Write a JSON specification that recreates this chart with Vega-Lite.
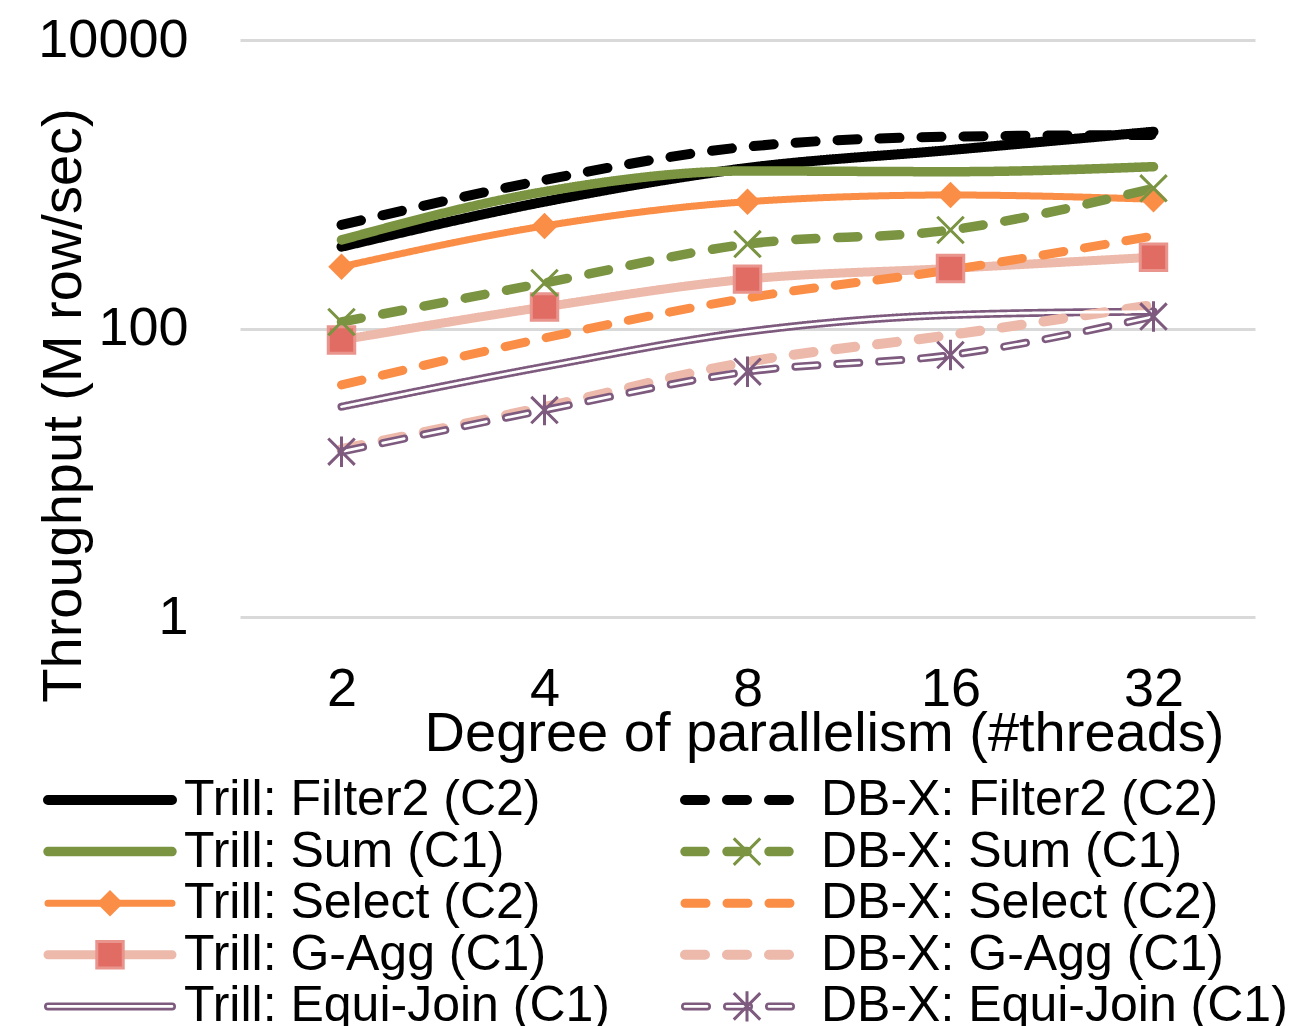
{
  "$schema": "https://vega.github.io/schema/vega-lite/v6.json",
  "width": 1015,
  "height": 577,
  "autosize": {"type": "none"},
  "padding": {"left": 240, "top": 40, "right": 49, "bottom": 409},
  "background": "white",
  "config": {
    "font": "Liberation Sans",
    "view": {"stroke": null},
    "axis": {"labelColor": "#000000", "titleColor": "#000000", "titleFontWeight": "normal", "domain": false, "ticks": false, "tickSize": 0}
  },
  "data": {
    "values": [
      {"series": "Trill: Filter2 (C2)", "threads": 2, "throughput": 369},
      {"series": "Trill: Filter2 (C2)", "threads": 4, "throughput": 757},
      {"series": "Trill: Filter2 (C2)", "threads": 8, "throughput": 1297},
      {"series": "Trill: Filter2 (C2)", "threads": 16, "throughput": 1727},
      {"series": "Trill: Filter2 (C2)", "threads": 32, "throughput": 2314},
      {"series": "Trill: Sum (C1)", "threads": 2, "throughput": 411},
      {"series": "Trill: Sum (C1)", "threads": 4, "throughput": 888},
      {"series": "Trill: Sum (C1)", "threads": 8, "throughput": 1236},
      {"series": "Trill: Sum (C1)", "threads": 16, "throughput": 1222},
      {"series": "Trill: Sum (C1)", "threads": 32, "throughput": 1324},
      {"series": "Trill: Select (C2)", "threads": 2, "throughput": 268},
      {"series": "Trill: Select (C2)", "threads": 4, "throughput": 514},
      {"series": "Trill: Select (C2)", "threads": 8, "throughput": 757},
      {"series": "Trill: Select (C2)", "threads": 16, "throughput": 842},
      {"series": "Trill: Select (C2)", "threads": 32, "throughput": 787},
      {"series": "Trill: G-Agg (C1)", "threads": 2, "throughput": 83.2},
      {"series": "Trill: G-Agg (C1)", "threads": 4, "throughput": 141},
      {"series": "Trill: G-Agg (C1)", "threads": 8, "throughput": 220},
      {"series": "Trill: G-Agg (C1)", "threads": 16, "throughput": 261},
      {"series": "Trill: G-Agg (C1)", "threads": 32, "throughput": 312},
      {"series": "Trill: Equi-Join (C1)", "threads": 2, "throughput": 28.7},
      {"series": "Trill: Equi-Join (C1)", "threads": 4, "throughput": 54.4},
      {"series": "Trill: Equi-Join (C1)", "threads": 8, "throughput": 95},
      {"series": "Trill: Equi-Join (C1)", "threads": 16, "throughput": 124},
      {"series": "Trill: Equi-Join (C1)", "threads": 32, "throughput": 131},
      {"series": "DB-X: Filter2 (C2)", "threads": 2, "throughput": 522},
      {"series": "DB-X: Filter2 (C2)", "threads": 4, "throughput": 1070},
      {"series": "DB-X: Filter2 (C2)", "threads": 8, "throughput": 1821},
      {"series": "DB-X: Filter2 (C2)", "threads": 16, "throughput": 2136},
      {"series": "DB-X: Filter2 (C2)", "threads": 32, "throughput": 2195},
      {"series": "DB-X: Sum (C1)", "threads": 2, "throughput": 111},
      {"series": "DB-X: Sum (C1)", "threads": 4, "throughput": 207},
      {"series": "DB-X: Sum (C1)", "threads": 8, "throughput": 385},
      {"series": "DB-X: Sum (C1)", "threads": 16, "throughput": 482},
      {"series": "DB-X: Sum (C1)", "threads": 32, "throughput": 937},
      {"series": "DB-X: Select (C2)", "threads": 2, "throughput": 40.6},
      {"series": "DB-X: Select (C2)", "threads": 4, "throughput": 85.9},
      {"series": "DB-X: Select (C2)", "threads": 8, "throughput": 163},
      {"series": "DB-X: Select (C2)", "threads": 16, "throughput": 255},
      {"series": "DB-X: Select (C2)", "threads": 32, "throughput": 438},
      {"series": "DB-X: G-Agg (C1)", "threads": 2, "throughput": 14.6},
      {"series": "DB-X: G-Agg (C1)", "threads": 4, "throughput": 28.6},
      {"series": "DB-X: G-Agg (C1)", "threads": 8, "throughput": 58.6},
      {"series": "DB-X: G-Agg (C1)", "threads": 16, "throughput": 90.2},
      {"series": "DB-X: G-Agg (C1)", "threads": 32, "throughput": 146},
      {"series": "DB-X: Equi-Join (C1)", "threads": 2, "throughput": 14.0},
      {"series": "DB-X: Equi-Join (C1)", "threads": 4, "throughput": 27.2},
      {"series": "DB-X: Equi-Join (C1)", "threads": 8, "throughput": 50.2},
      {"series": "DB-X: Equi-Join (C1)", "threads": 16, "throughput": 65.5},
      {"series": "DB-X: Equi-Join (C1)", "threads": 32, "throughput": 121}
    ]
  },
  "encoding": {
    "x": {
      "field": "threads", "type": "ordinal",
      "scale": {"type": "point", "padding": 0.5},
      "axis": {
        "title": "Degree of parallelism (#threads)", "labelAngle": 0, "labelFontSize": 54,
        "labelBaseline": "alphabetic", "labelPadding": 88, "grid": false,
        "titleFontSize": 56, "titleX": 584, "titleY": 133, "titleAlign": "center", "titleBaseline": "alphabetic"
      }
    },
    "y": {
      "field": "throughput", "type": "quantitative",
      "scale": {"type": "log", "domain": [1, 10000], "nice": false},
      "axis": {
        "title": "Throughput (M row/sec)", "values": [1, 100, 10000], "format": "d",
        "labelFontSize": 54, "labelPadding": 52, "labelBaseline": "middle",
        "grid": true, "gridColor": "#D9D9D9", "gridWidth": 3,
        "titleFontSize": 56, "titleX": -160, "titleY": 365, "titleAlign": "center", "titleBaseline": "alphabetic", "titleAngle": -90
      }
    }
  },
  "layer": [
    {
      "mark": {"type": "line", "interpolate": "monotone", "strokeCap": "round", "strokeJoin": "round"},
      "encoding": {
        "color": {
          "field": "series", "type": "nominal",
          "scale": {
            "domain": ["Trill: Filter2 (C2)", "Trill: Sum (C1)", "Trill: Select (C2)", "Trill: G-Agg (C1)", "Trill: Equi-Join (C1)", "DB-X: Filter2 (C2)", "DB-X: Sum (C1)", "DB-X: Select (C2)", "DB-X: G-Agg (C1)", "DB-X: Equi-Join (C1)"],
            "range": ["#000000", "#7A9442", "#FA8E47", "#EDB9AA", "#7D5A7E", "#000000", "#7A9442", "#FA8E47", "#EDB9AA", "#7D5A7E"]
          },
          "legend": {"orient": "none", "legendX": -197, "legendY": 740, "columns": 2, "columnPadding": 69, "rowPadding": 1.6, "clipHeight": 40, "symbolSize": 15376, "symbolType": "stroke", "labelFontSize": 50, "labelColor": "#000000", "labelLimit": 800, "labelOffset": 7, "title": null, "encode": {"symbols": {"update": {"strokeCap": {"value": "round"}}}}}
        },
        "strokeDash": {
          "field": "series", "type": "nominal",
          "scale": {
            "domain": ["Trill: Filter2 (C2)", "Trill: Sum (C1)", "Trill: Select (C2)", "Trill: G-Agg (C1)", "Trill: Equi-Join (C1)", "DB-X: Filter2 (C2)", "DB-X: Sum (C1)", "DB-X: Select (C2)", "DB-X: G-Agg (C1)", "DB-X: Equi-Join (C1)"],
            "range": [[1, 0], [1, 0], [1, 0], [1, 0], [1, 0], [20, 22], [20, 22], [21, 21], [20, 22], [22, 20]]
          },
          "legend": {"orient": "none", "legendX": -197, "legendY": 740, "columns": 2, "columnPadding": 69, "rowPadding": 1.6, "clipHeight": 40, "symbolSize": 15376, "symbolType": "stroke", "labelFontSize": 50, "labelColor": "#000000", "labelLimit": 800, "labelOffset": 7, "title": null, "encode": {"symbols": {"update": {"strokeCap": {"value": "round"}}}}}
        },
        "strokeWidth": {
          "field": "series", "type": "nominal",
          "scale": {
            "type": "ordinal",
            "domain": ["Trill: Filter2 (C2)", "Trill: Sum (C1)", "Trill: Select (C2)", "Trill: G-Agg (C1)", "Trill: Equi-Join (C1)", "DB-X: Filter2 (C2)", "DB-X: Sum (C1)", "DB-X: Select (C2)", "DB-X: G-Agg (C1)", "DB-X: Equi-Join (C1)"],
            "range": [10, 9.5, 7, 9, 8, 10, 9.5, 9, 10, 8]
          },
          "legend": {"orient": "none", "legendX": -197, "legendY": 740, "columns": 2, "columnPadding": 69, "rowPadding": 1.6, "clipHeight": 40, "symbolSize": 15376, "symbolType": "stroke", "labelFontSize": 50, "labelColor": "#000000", "labelLimit": 800, "labelOffset": 7, "title": null, "encode": {"symbols": {"update": {"strokeCap": {"value": "round"}}}}}
        }
      }
    },
    {
      "transform": [{"filter": {"field": "series", "oneOf": ["Trill: Equi-Join (C1)", "DB-X: Equi-Join (C1)"]}}],
      "mark": {"type": "line", "interpolate": "monotone", "strokeCap": "round", "strokeJoin": "round", "strokeWidth": 2.7},
      "encoding": {
        "color": {
          "field": "series", "type": "nominal",
          "scale": {
            "domain": ["Trill: Filter2 (C2)", "Trill: Sum (C1)", "Trill: Select (C2)", "Trill: G-Agg (C1)", "Trill: Equi-Join (C1)", "DB-X: Filter2 (C2)", "DB-X: Sum (C1)", "DB-X: Select (C2)", "DB-X: G-Agg (C1)", "DB-X: Equi-Join (C1)"],
            "range": ["transparent", "transparent", "transparent", "transparent", "#FFFFFF", "transparent", "transparent", "transparent", "transparent", "#FFFFFF"]
          },
          "legend": {"orient": "none", "legendX": -197, "legendY": 740, "columns": 2, "columnPadding": 69, "rowPadding": 1.6, "clipHeight": 40, "symbolSize": 15376, "symbolType": "stroke", "symbolStrokeWidth": 2.7, "symbolOffset": 3.5, "labelFontSize": 50, "labelColor": "transparent", "labelLimit": 800, "labelOffset": 10.5, "title": null, "encode": {"symbols": {"update": {"strokeCap": {"value": "round"}}}}}
        },
        "strokeDash": {
          "field": "series", "type": "nominal",
          "scale": {
            "domain": ["Trill: Filter2 (C2)", "Trill: Sum (C1)", "Trill: Select (C2)", "Trill: G-Agg (C1)", "Trill: Equi-Join (C1)", "DB-X: Filter2 (C2)", "DB-X: Sum (C1)", "DB-X: Select (C2)", "DB-X: G-Agg (C1)", "DB-X: Equi-Join (C1)"],
            "range": [[1, 0], [1, 0], [1, 0], [1, 0], [1, 0], [20, 22], [20, 22], [21, 21], [20, 22], [22, 20]]
          },
          "legend": {"orient": "none", "legendX": -197, "legendY": 740, "columns": 2, "columnPadding": 69, "rowPadding": 1.6, "clipHeight": 40, "symbolSize": 15376, "symbolType": "stroke", "symbolStrokeWidth": 2.7, "symbolOffset": 3.5, "labelFontSize": 50, "labelColor": "transparent", "labelLimit": 800, "labelOffset": 10.5, "title": null, "encode": {"symbols": {"update": {"strokeCap": {"value": "round"}}}}}
        }
      }
    },
    {
      "transform": [{"filter": {"field": "series", "oneOf": ["Trill: Select (C2)", "Trill: G-Agg (C1)", "DB-X: Sum (C1)", "DB-X: Equi-Join (C1)"]}}],
      "mark": {"type": "point", "filled": true, "size": 700, "strokeWidth": 3, "opacity": 1},
      "encoding": {
        "shape": {
          "field": "series", "type": "nominal",
          "scale": {
            "domain": ["Trill: Filter2 (C2)", "Trill: Sum (C1)", "Trill: Select (C2)", "Trill: G-Agg (C1)", "Trill: Equi-Join (C1)", "DB-X: Filter2 (C2)", "DB-X: Sum (C1)", "DB-X: Select (C2)", "DB-X: G-Agg (C1)", "DB-X: Equi-Join (C1)"],
            "range": ["circle", "circle", "diamond", "square", "circle", "circle", "M-1,-1L1,1M-1,1L1,-1", "circle", "circle", "M-1,-1L1,1M-1,1L1,-1M0,-1.15L0,1.15"]
          },
          "legend": {"orient": "none", "legendX": -197, "legendY": 740, "columns": 2, "columnPadding": 69, "rowPadding": 1.6, "clipHeight": 40, "symbolSize": 700, "symbolStrokeWidth": 3, "symbolOpacity": 1, "symbolOffset": 42, "labelFontSize": 50, "labelColor": "transparent", "labelLimit": 800, "labelOffset": 49, "title": null}
        },
        "fill": {
          "field": "series", "type": "nominal",
          "scale": {
            "domain": ["Trill: Filter2 (C2)", "Trill: Sum (C1)", "Trill: Select (C2)", "Trill: G-Agg (C1)", "Trill: Equi-Join (C1)", "DB-X: Filter2 (C2)", "DB-X: Sum (C1)", "DB-X: Select (C2)", "DB-X: G-Agg (C1)", "DB-X: Equi-Join (C1)"],
            "range": ["transparent", "transparent", "#FA8E47", "#E06C64", "transparent", "transparent", "transparent", "transparent", "transparent", "transparent"]
          },
          "legend": {"orient": "none", "legendX": -197, "legendY": 740, "columns": 2, "columnPadding": 69, "rowPadding": 1.6, "clipHeight": 40, "symbolSize": 700, "symbolStrokeWidth": 3, "symbolOpacity": 1, "symbolOffset": 42, "labelFontSize": 50, "labelColor": "transparent", "labelLimit": 800, "labelOffset": 49, "title": null}
        },
        "stroke": {
          "field": "series", "type": "nominal",
          "scale": {
            "domain": ["Trill: Filter2 (C2)", "Trill: Sum (C1)", "Trill: Select (C2)", "Trill: G-Agg (C1)", "Trill: Equi-Join (C1)", "DB-X: Filter2 (C2)", "DB-X: Sum (C1)", "DB-X: Select (C2)", "DB-X: G-Agg (C1)", "DB-X: Equi-Join (C1)"],
            "range": ["transparent", "transparent", "transparent", "#E9958D", "transparent", "transparent", "#7A9442", "transparent", "transparent", "#7D5A7E"]
          },
          "legend": {"orient": "none", "legendX": -197, "legendY": 740, "columns": 2, "columnPadding": 69, "rowPadding": 1.6, "clipHeight": 40, "symbolSize": 700, "symbolStrokeWidth": 3, "symbolOpacity": 1, "symbolOffset": 42, "labelFontSize": 50, "labelColor": "transparent", "labelLimit": 800, "labelOffset": 49, "title": null}
        }
      }
    }
  ],
  "resolve": {
    "scale": {"color": "independent", "strokeDash": "independent", "strokeWidth": "independent", "shape": "independent", "fill": "independent", "stroke": "independent"}
  }
}
